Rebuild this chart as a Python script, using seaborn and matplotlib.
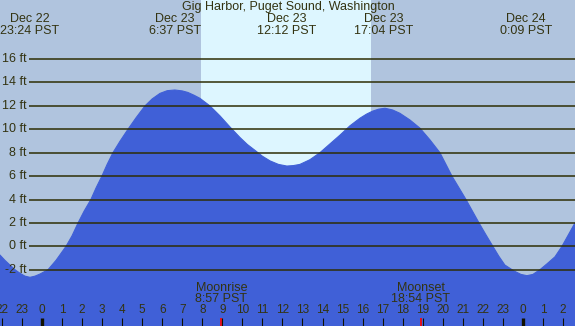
import matplotlib
matplotlib.use('Agg')
import matplotlib.pyplot as plt
import seaborn as sns

# tide height (ft), hours relative to Dec 23 00:00 PST
tide_hours = [-2.10, -1.85, -1.60, -1.35, -1.10, -0.85, -0.60, -0.35, -0.10, 0.30,
              0.70, 1.20, 1.50, 1.80, 2.10, 2.44, 2.70, 2.99, 3.25, 3.54,
              3.90, 4.29, 4.70, 5.14, 5.50, 5.89, 6.25, 6.63, 7.00, 7.28,
              7.60, 7.88, 8.38, 8.88, 9.38, 9.88, 10.25, 10.63, 11.00, 11.38,
              11.80, 12.22, 12.55, 12.87, 13.37, 13.87, 14.37, 14.87, 15.37, 15.87,
              16.20, 16.50, 16.80, 17.12, 17.50, 17.86, 18.36, 18.86, 19.36, 19.86,
              20.16, 20.46, 21.16, 21.50, 21.81, 22.15, 22.50, 22.80, 23.10, 23.55,
              23.90, 24.20, 24.50, 24.85, 25.20, 25.60, 25.95, 26.60]
tide_ft = [-0.74, -1.2, -1.6, -2.0, -2.3, -2.55, -2.65, -2.55, -2.37, -2.0,
           -1.2, 0.0, 0.9, 2.0, 3.0, 4.0, 5.0, 6.0, 7.0, 8.0,
           9.0, 10.0, 11.0, 12.0, 12.6, 13.07, 13.3, 13.36, 13.28, 13.15,
           12.9, 12.65, 12.0, 11.15, 10.2, 9.3, 8.7, 8.2, 7.7, 7.3,
           7.0, 6.86, 6.9, 7.0, 7.4, 8.0, 8.75, 9.5, 10.3, 10.95,
           11.3, 11.55, 11.72, 11.8, 11.65, 11.37, 10.8, 10.1, 9.1, 8.0,
           7.0, 6.0, 4.0, 2.95, 2.0, 1.0, 0.0, -0.85, -1.6, -2.1,
           -2.4, -2.51, -2.4, -2.0, -1.5, -0.9, 0.0, 2.0]

# high / low tide events
event_hours = [-0.60, 6.62, 12.20, 17.07, 24.15]
event_dates = ['Dec 22', 'Dec 23', 'Dec 23', 'Dec 23', 'Dec 24']
event_times = ['23:24 PST', '6:37 PST', '12:12 PST', '17:04 PST', '0:09 PST']

# moon events
moon_hours = [8.95, 18.90]
moon_names = ['Moonrise', 'Moonset']
moon_times = ['8:57 PST', '18:54 PST']

# daylight (sunrise / sunset)
day_start, day_end = 7.93, 16.42

grid_levels = [-2, 0, 2, 4, 6, 8, 10, 12, 14, 16]
hour_ticks = list(range(-2, 27))

title = 'Gig Harbor, Puget Sound, Washington'

sns.set_theme(style='white')
plt.rcParams['font.family'] = ['Liberation Sans', 'DejaVu Sans']

txt = '#333311'
night = '#b0c4de'
day = '#ddf6ff'
water = '#4060d7'

fig = plt.figure(figsize=(5.75, 3.26), dpi=100)
ax = fig.add_axes([0, 0, 1, 1])
ax.set_facecolor(night)
fig.patch.set_facecolor(night)

x0, x1 = -2.096, 26.6
y0, y1 = -6.81, 21.05
ax.set_xlim(x0, x1)
ax.set_ylim(y0, y1)

ax.axvspan(day_start, day_end, color=day, lw=0, zorder=0)

ax.fill_between(tide_hours, tide_ft, y0, color=water, lw=0, zorder=1)
sns.lineplot(x=tide_hours, y=tide_ft, ax=ax, color=water, lw=0.8, zorder=1)

ax.hlines(grid_levels, -0.65, x1, color='#2e2e05', lw=1.1, zorder=2)
for g in grid_levels:
    ax.text(-0.75, g, f'{g} ft', ha='right', va='center', fontsize=9, color=txt)

ax.text(12.3, 20.45, title, ha='center', va='center', fontsize=9, color=txt)
for h, d, t in zip(event_hours, event_dates, event_times):
    ax.text(h, 19.4, d, ha='center', va='center', fontsize=9, color=txt)
    ax.text(h, 18.4, t, ha='center', va='center', fontsize=9, color=txt)

for h, n, t in zip(moon_hours, moon_names, moon_times):
    ax.text(h, -3.55, n, ha='center', va='center', fontsize=9, color=txt)
    ax.text(h, -4.5, t, ha='center', va='center', fontsize=9, color=txt)
    ax.vlines(h, -6.81, -6.12, color='#ff0000', lw=1.2, zorder=3)

for h in hour_ticks:
    ax.text(h, -5.45, str(h % 24), ha='center', va='center', fontsize=8.5, color=txt)
    lw = 2.4 if h % 24 == 0 else 0.8
    ax.vlines(h, -6.81, -6.12, color='#111100', lw=lw, zorder=3)

ax.axis('off')
fig.savefig('out.png', dpi=100, facecolor=night)
